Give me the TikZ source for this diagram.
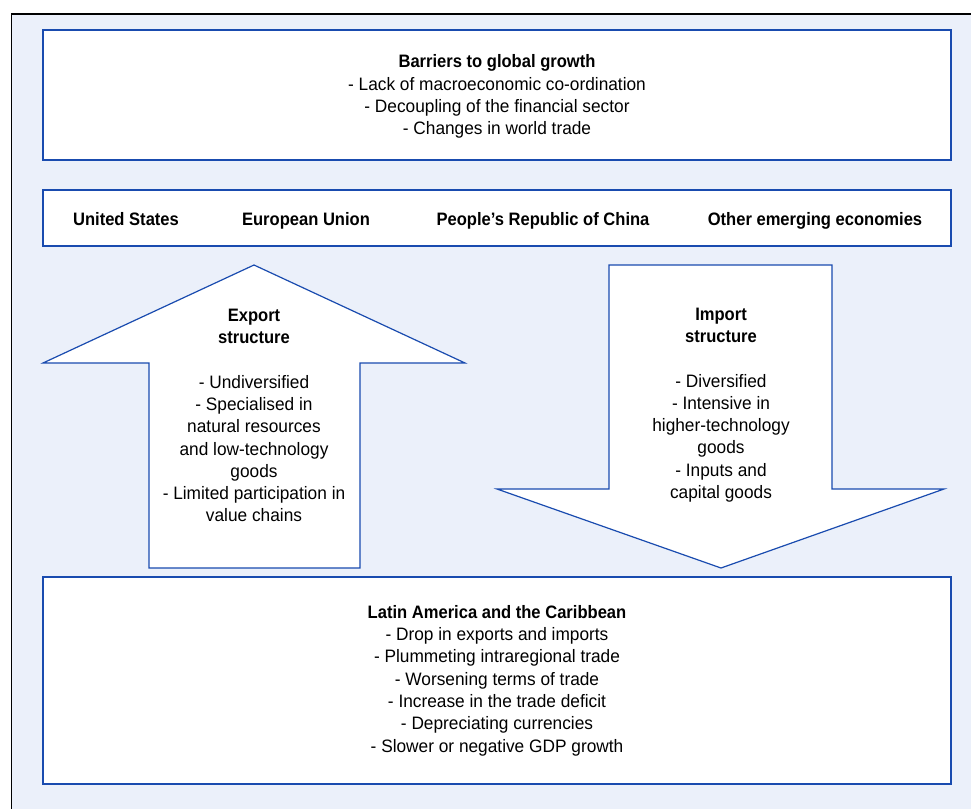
\documentclass[tikz,border=0pt]{standalone}
\usepackage{fontspec}
\setmainfont{Liberation Sans}[FakeStretch=0.96,BoldFeatures={FakeStretch=0.92}]
\definecolor{lineblue}{RGB}{25,75,175}
\definecolor{bgblue}{RGB}{235,240,250}
\begin{document}
\begin{tikzpicture}[x=1pt,y=-1pt,
  panel/.style={draw=lineblue, line width=1.2pt, fill=white, rectangle, inner sep=0pt, minimum width=908pt},
  arrowshape/.style={draw=lineblue, line width=1.2pt, fill=white, line join=miter},
  txt/.style={align=center, font=\fontsize{18}{22.3}\selectfont, inner sep=0pt, text=black},
  btxt/.style={txt, font=\fontsize{18}{22.3}\selectfont\bfseries}]
\useasboundingbox (0,0) rectangle (971,808);
% outer frame
\fill[bgblue] (11.5,14) rectangle (980,815);
\draw[black, line width=1.6pt] (11.5,815) -- (11.5,14) -- (980,14);
% panels
\node[panel, minimum height=130pt] (barriers) at (497,95) {};
\node[panel, minimum height=56pt] (regions) at (497,218) {};
\node[panel, minimum height=207pt] (lac) at (497,680.5) {};
% arrows
\draw[arrowshape] (149,568) -- (149,363) -- (43,363) -- (254,265) -- (465,363) -- (360,363) -- (360,568) -- cycle;
\draw[arrowshape] (609,265) -- (832,265) -- (832,489) -- (944,489) -- (721,568) -- (497,489) -- (609,489) -- cycle;
% texts
\node[txt] (barrierstxt) at (497,96.5) {\textbf{Barriers to global growth}\\- Lack of macroeconomic co-ordination\\- Decoupling of the financial sector\\- Changes in world trade};
\node[btxt, anchor=base] (us) at (126,225) {United States};
\node[btxt, anchor=base] (eu) at (306,225) {European Union};
\node[btxt, anchor=base] (china) at (543,225) {People’s Republic of China};
\node[btxt, anchor=base] (other) at (815,225) {Other emerging economies};
\node[txt] (exporttxt) at (254,415.5) {\textbf{Export}\\\textbf{structure}\\[22.3pt]- Undiversified\\- Specialised in\\natural resources\\and low-technology\\goods\\- Limited participation in\\value chains};
\node[txt] (importtxt) at (721,405) {\textbf{Import}\\\textbf{structure}\\[22.3pt]- Diversified\\- Intensive in\\higher-technology\\goods\\- Inputs and\\capital goods};
\node[txt] (lactxt) at (497,680.5) {\textbf{Latin America and the Caribbean}\\- Drop in exports and imports\\- Plummeting intraregional trade\\- Worsening terms of trade\\- Increase in the trade deficit\\- Depreciating currencies\\- Slower or negative GDP growth};
\end{tikzpicture}
\end{document}
